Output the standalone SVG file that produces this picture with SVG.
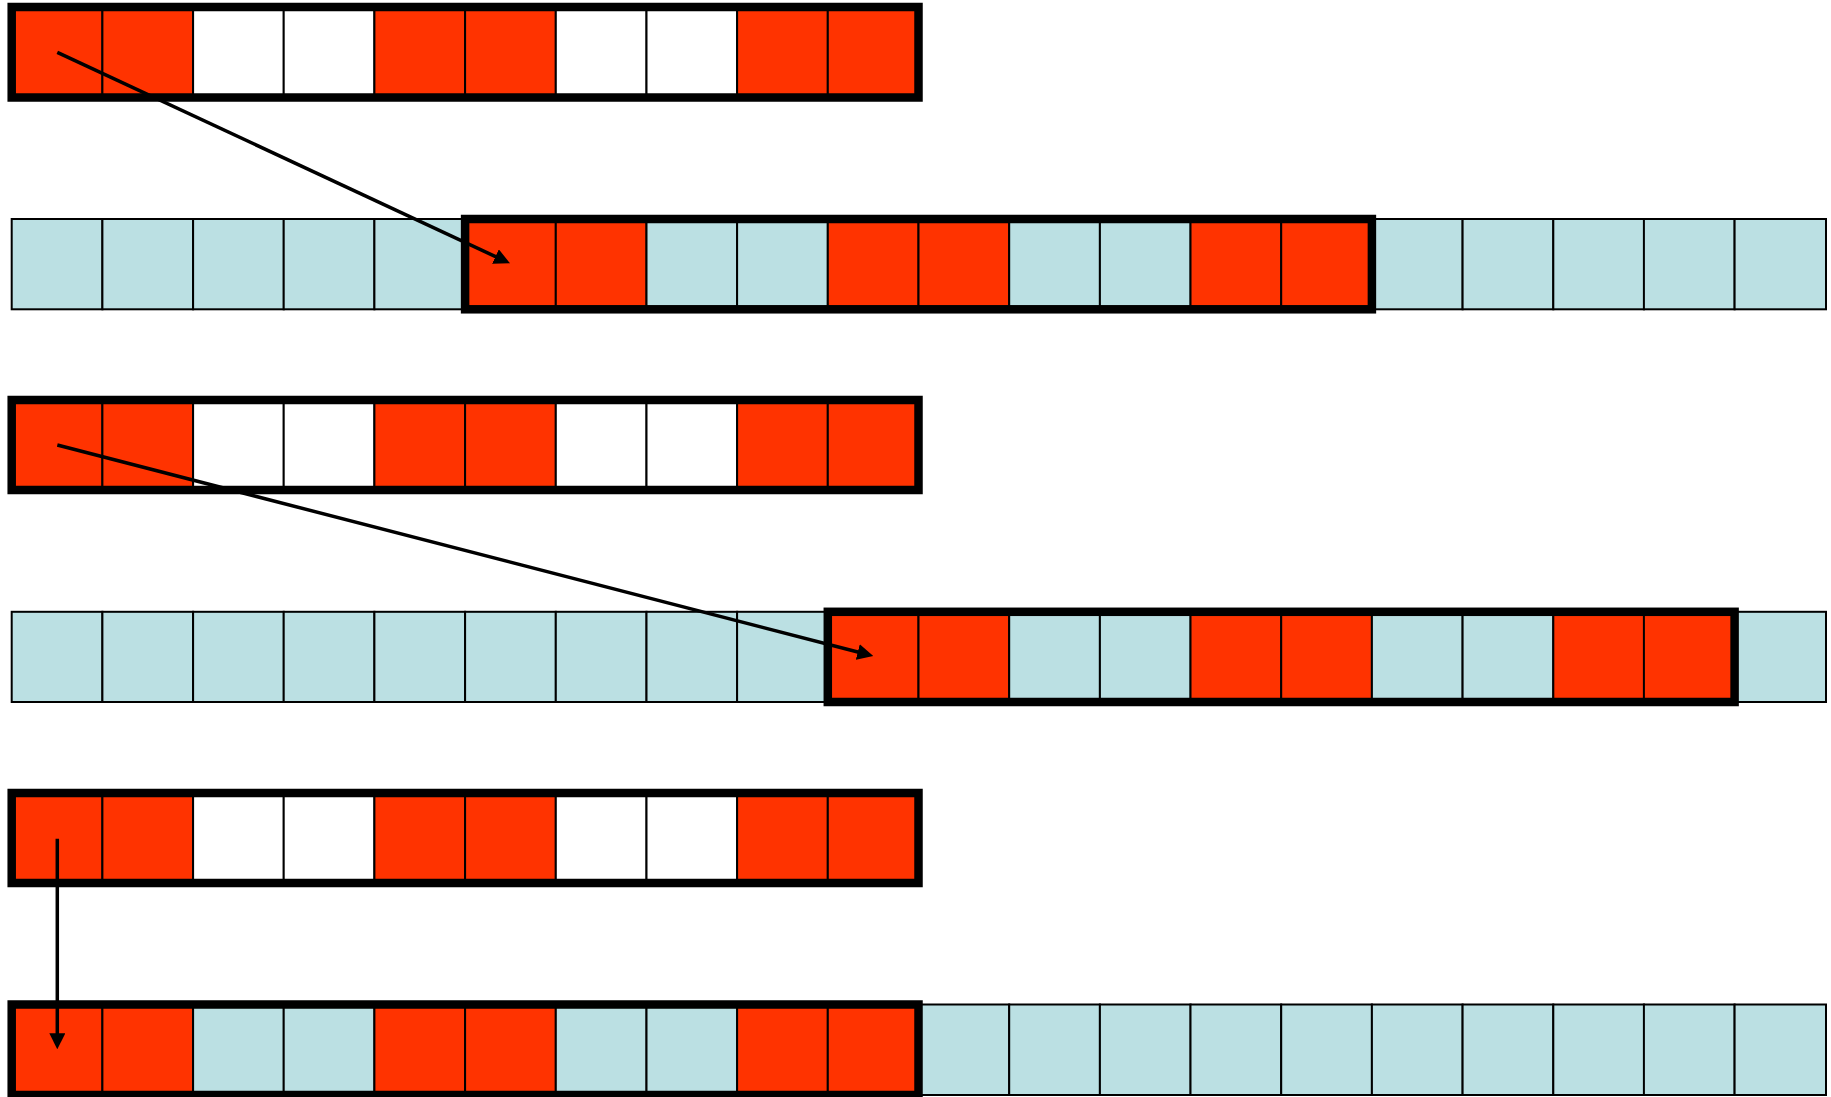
<svg xmlns="http://www.w3.org/2000/svg" width="1831" height="1097" viewBox="0 0 1831 1097">
<defs>
<style>
.r{fill:#FF3300;stroke:#000;stroke-width:2}
.w{fill:#FFFFFF;stroke:#000;stroke-width:2}
.b{fill:#BBE0E3;stroke:#000;stroke-width:2}
.frame{fill:none;stroke:#000;stroke-width:8.5}
.arrow{stroke:#000;stroke-width:3.5;fill:none;marker-end:url(#ah)}
</style>
<marker id="ah" viewBox="0 0 16 16" refX="6" refY="8" markerWidth="16" markerHeight="16" markerUnits="userSpaceOnUse" orient="auto">
<path d="M0,0 L16,8 L0,16 z" fill="#000"/>
</marker>
</defs>
<rect width="1831" height="1097" fill="#fff"/>

<g id="pattern1">
<rect class="r" x="11.7" y="7" width="90.7" height="90.5"/>
<rect class="r" x="102.4" y="7" width="90.7" height="90.5"/>
<rect class="w" x="193.1" y="7" width="90.7" height="90.5"/>
<rect class="w" x="283.7" y="7" width="90.7" height="90.5"/>
<rect class="r" x="374.4" y="7" width="90.7" height="90.5"/>
<rect class="r" x="465.1" y="7" width="90.7" height="90.5"/>
<rect class="w" x="555.8" y="7" width="90.7" height="90.5"/>
<rect class="w" x="646.5" y="7" width="90.7" height="90.5"/>
<rect class="r" x="737.1" y="7" width="90.7" height="90.5"/>
<rect class="r" x="827.8" y="7" width="90.7" height="90.5"/>
<rect class="frame" x="11.7" y="7" width="906.8" height="90.5"/>
</g>

<g id="signal1">
<rect class="b" x="11.7" y="219" width="90.7" height="90.3"/>
<rect class="b" x="102.4" y="219" width="90.7" height="90.3"/>
<rect class="b" x="193.1" y="219" width="90.7" height="90.3"/>
<rect class="b" x="283.7" y="219" width="90.7" height="90.3"/>
<rect class="b" x="374.4" y="219" width="90.7" height="90.3"/>
<rect class="r" x="465.1" y="219" width="90.7" height="90.3"/>
<rect class="r" x="555.8" y="219" width="90.7" height="90.3"/>
<rect class="b" x="646.5" y="219" width="90.7" height="90.3"/>
<rect class="b" x="737.1" y="219" width="90.7" height="90.3"/>
<rect class="r" x="827.8" y="219" width="90.7" height="90.3"/>
<rect class="r" x="918.5" y="219" width="90.7" height="90.3"/>
<rect class="b" x="1009.2" y="219" width="90.7" height="90.3"/>
<rect class="b" x="1099.9" y="219" width="90.7" height="90.3"/>
<rect class="r" x="1190.5" y="219" width="90.7" height="90.3"/>
<rect class="r" x="1281.2" y="219" width="90.7" height="90.3"/>
<rect class="b" x="1371.9" y="219" width="90.7" height="90.3"/>
<rect class="b" x="1462.6" y="219" width="90.7" height="90.3"/>
<rect class="b" x="1553.3" y="219" width="90.7" height="90.3"/>
<rect class="b" x="1643.9" y="219" width="90.7" height="90.3"/>
<rect class="b" x="1734.6" y="219" width="91.4" height="90.3"/>
<rect class="frame" x="465.1" y="219" width="906.8" height="90.3"/>
</g>

<g id="pattern2">
<rect class="r" x="11.7" y="400" width="90.7" height="90"/>
<rect class="r" x="102.4" y="400" width="90.7" height="90"/>
<rect class="w" x="193.1" y="400" width="90.7" height="90"/>
<rect class="w" x="283.7" y="400" width="90.7" height="90"/>
<rect class="r" x="374.4" y="400" width="90.7" height="90"/>
<rect class="r" x="465.1" y="400" width="90.7" height="90"/>
<rect class="w" x="555.8" y="400" width="90.7" height="90"/>
<rect class="w" x="646.5" y="400" width="90.7" height="90"/>
<rect class="r" x="737.1" y="400" width="90.7" height="90"/>
<rect class="r" x="827.8" y="400" width="90.7" height="90"/>
<rect class="frame" x="11.7" y="400" width="906.8" height="90"/>
</g>

<g id="signal2">
<rect class="b" x="11.7" y="611.8" width="90.7" height="90.2"/>
<rect class="b" x="102.4" y="611.8" width="90.7" height="90.2"/>
<rect class="b" x="193.1" y="611.8" width="90.7" height="90.2"/>
<rect class="b" x="283.7" y="611.8" width="90.7" height="90.2"/>
<rect class="b" x="374.4" y="611.8" width="90.7" height="90.2"/>
<rect class="b" x="465.1" y="611.8" width="90.7" height="90.2"/>
<rect class="b" x="555.8" y="611.8" width="90.7" height="90.2"/>
<rect class="b" x="646.5" y="611.8" width="90.7" height="90.2"/>
<rect class="b" x="737.1" y="611.8" width="90.7" height="90.2"/>
<rect class="r" x="827.8" y="611.8" width="90.7" height="90.2"/>
<rect class="r" x="918.5" y="611.8" width="90.7" height="90.2"/>
<rect class="b" x="1009.2" y="611.8" width="90.7" height="90.2"/>
<rect class="b" x="1099.9" y="611.8" width="90.7" height="90.2"/>
<rect class="r" x="1190.5" y="611.8" width="90.7" height="90.2"/>
<rect class="r" x="1281.2" y="611.8" width="90.7" height="90.2"/>
<rect class="b" x="1371.9" y="611.8" width="90.7" height="90.2"/>
<rect class="b" x="1462.6" y="611.8" width="90.7" height="90.2"/>
<rect class="r" x="1553.3" y="611.8" width="90.7" height="90.2"/>
<rect class="r" x="1643.9" y="611.8" width="90.7" height="90.2"/>
<rect class="b" x="1734.6" y="611.8" width="91.4" height="90.2"/>
<rect class="frame" x="827.8" y="611.8" width="906.8" height="90.2"/>
</g>

<g id="pattern3">
<rect class="r" x="11.7" y="793" width="90.7" height="90"/>
<rect class="r" x="102.4" y="793" width="90.7" height="90"/>
<rect class="w" x="193.1" y="793" width="90.7" height="90"/>
<rect class="w" x="283.7" y="793" width="90.7" height="90"/>
<rect class="r" x="374.4" y="793" width="90.7" height="90"/>
<rect class="r" x="465.1" y="793" width="90.7" height="90"/>
<rect class="w" x="555.8" y="793" width="90.7" height="90"/>
<rect class="w" x="646.5" y="793" width="90.7" height="90"/>
<rect class="r" x="737.1" y="793" width="90.7" height="90"/>
<rect class="r" x="827.8" y="793" width="90.7" height="90"/>
<rect class="frame" x="11.7" y="793" width="906.8" height="90"/>
</g>

<g id="signal3">
<rect class="r" x="11.7" y="1004.5" width="90.7" height="90.5"/>
<rect class="r" x="102.4" y="1004.5" width="90.7" height="90.5"/>
<rect class="b" x="193.1" y="1004.5" width="90.7" height="90.5"/>
<rect class="b" x="283.7" y="1004.5" width="90.7" height="90.5"/>
<rect class="r" x="374.4" y="1004.5" width="90.7" height="90.5"/>
<rect class="r" x="465.1" y="1004.5" width="90.7" height="90.5"/>
<rect class="b" x="555.8" y="1004.5" width="90.7" height="90.5"/>
<rect class="b" x="646.5" y="1004.5" width="90.7" height="90.5"/>
<rect class="r" x="737.1" y="1004.5" width="90.7" height="90.5"/>
<rect class="r" x="827.8" y="1004.5" width="90.7" height="90.5"/>
<rect class="b" x="918.5" y="1004.5" width="90.7" height="90.5"/>
<rect class="b" x="1009.2" y="1004.5" width="90.7" height="90.5"/>
<rect class="b" x="1099.9" y="1004.5" width="90.7" height="90.5"/>
<rect class="b" x="1190.5" y="1004.5" width="90.7" height="90.5"/>
<rect class="b" x="1281.2" y="1004.5" width="90.7" height="90.5"/>
<rect class="b" x="1371.9" y="1004.5" width="90.7" height="90.5"/>
<rect class="b" x="1462.6" y="1004.5" width="90.7" height="90.5"/>
<rect class="b" x="1553.3" y="1004.5" width="90.7" height="90.5"/>
<rect class="b" x="1643.9" y="1004.5" width="90.7" height="90.5"/>
<rect class="b" x="1734.6" y="1004.5" width="91.4" height="90.5"/>
<rect class="frame" x="11.7" y="1004.5" width="906.8" height="90.5"/>
</g>

<g id="connectors">
<line class="arrow" x1="57.3" y1="52.3" x2="500.9" y2="259.1"/>
<line class="arrow" x1="57.3" y1="445" x2="863.6" y2="653.5"/>
<line class="arrow" x1="57.3" y1="838.7" x2="57.3" y2="1039.3"/>
</g>
</svg>
